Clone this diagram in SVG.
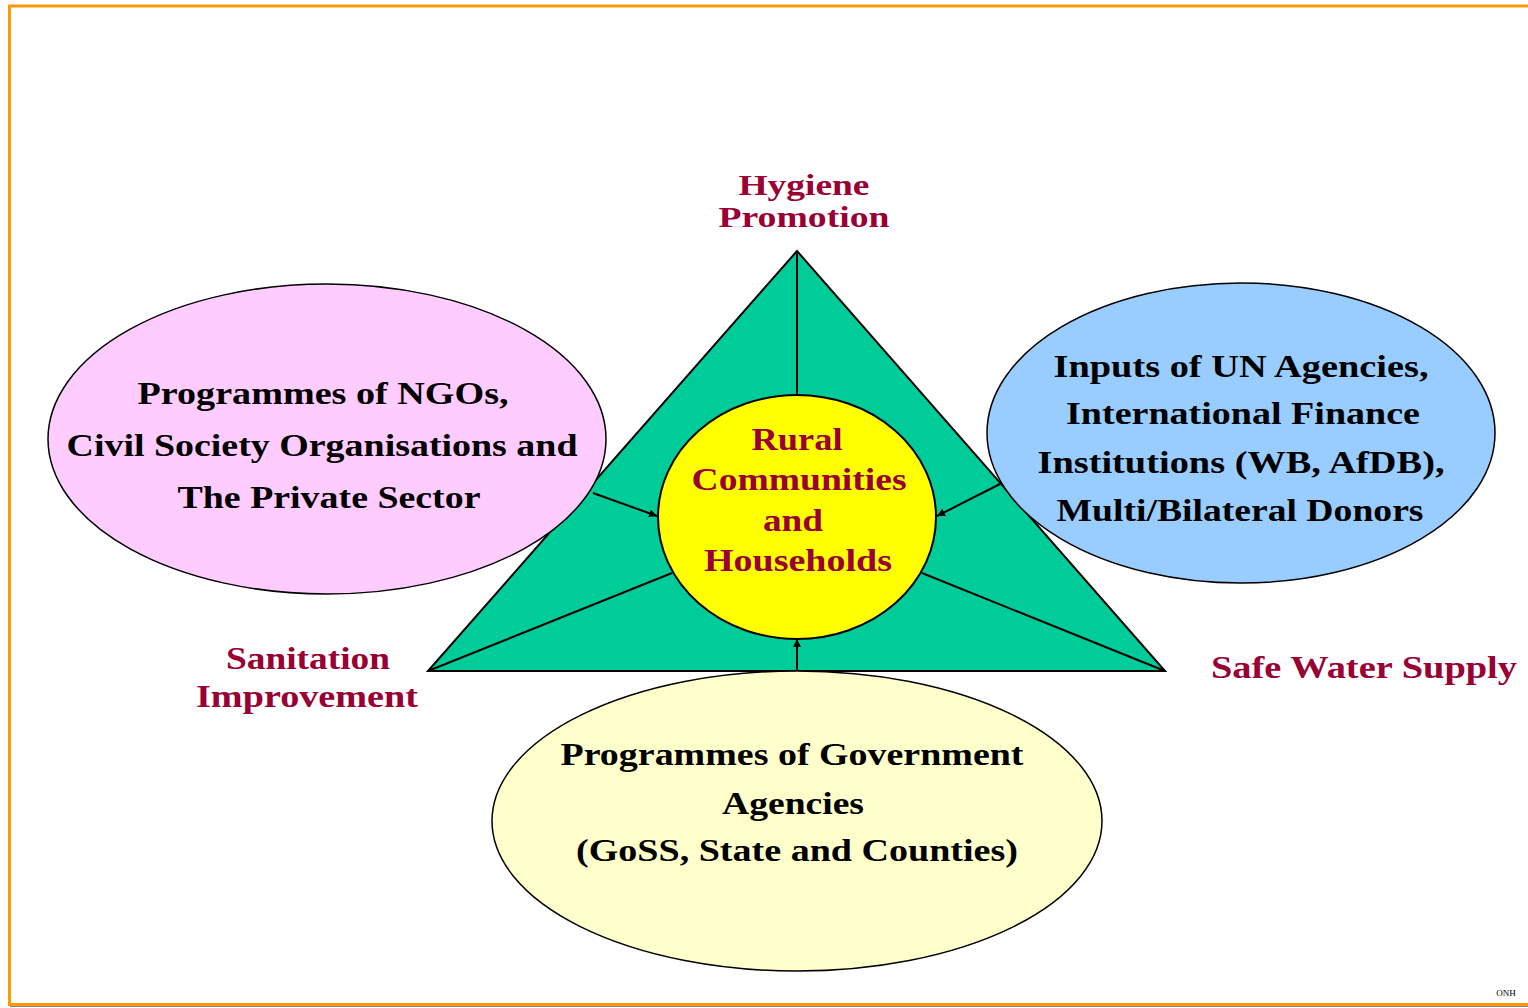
<svg xmlns="http://www.w3.org/2000/svg" width="1528" height="1008" viewBox="0 0 1528 1008">
<defs>
<style>
.t{font-family:"Liberation Serif","Times New Roman",serif;font-weight:bold;font-size:32px;text-anchor:middle}
.k{fill:#000}
.r{fill:#990033}
.s{font-size:30px}
.ln{stroke:#000;stroke-width:2;fill:none}
</style>
<marker id="ah" viewBox="0 0 10 10" refX="10" refY="5" markerWidth="8" markerHeight="8" markerUnits="userSpaceOnUse" orient="auto">
<path d="M0,0 L10,5 L0,10 z" fill="#000"/>
</marker>
</defs>
<rect width="1528" height="1008" fill="#fff"/>
<line x1="10" y1="1006" x2="1528" y2="1006" stroke="#888" stroke-width="2"/>
<path d="M1528,6 H9.5 V1004.5 H1528" fill="none" stroke="#ff9900" stroke-width="3"/>
<g id="triangle">
<polygon points="797,251 428,671 1165,671" fill="#00cc99" stroke="#000" stroke-width="2"/>
<line class="ln" x1="797" y1="251" x2="797" y2="396"/>
<line class="ln" x1="428" y1="671" x2="672" y2="573"/>
<line class="ln" x1="1165" y1="671" x2="922" y2="573"/>
</g>
<g id="ngo">
<ellipse cx="327" cy="439" rx="279" ry="155" fill="#ffccff" stroke="#000" stroke-width="1.5"/>
<text class="t k" x="323" y="404" textLength="371" lengthAdjust="spacingAndGlyphs">Programmes of NGOs,</text>
<text class="t k" x="322" y="456" textLength="511" lengthAdjust="spacingAndGlyphs">Civil Society Organisations and</text>
<text class="t k" x="329" y="508" textLength="303" lengthAdjust="spacingAndGlyphs">The Private Sector</text>
</g>
<g id="un">
<ellipse cx="1241" cy="433" rx="254" ry="150" fill="#99ccff" stroke="#000" stroke-width="1.5"/>
<text class="t k" x="1241" y="377" textLength="375" lengthAdjust="spacingAndGlyphs">Inputs of UN Agencies,</text>
<text class="t k" x="1243" y="424" textLength="354" lengthAdjust="spacingAndGlyphs">International Finance</text>
<text class="t k" x="1241" y="473" textLength="407" lengthAdjust="spacingAndGlyphs">Institutions (WB, AfDB),</text>
<text class="t k" x="1240" y="521" textLength="367" lengthAdjust="spacingAndGlyphs">Multi/Bilateral Donors</text>
</g>
<g id="gov">
<ellipse cx="797" cy="821" rx="305" ry="150" fill="#ffffcc" stroke="#000" stroke-width="1.5"/>
<text class="t k" x="792" y="765" textLength="463" lengthAdjust="spacingAndGlyphs">Programmes of Government</text>
<text class="t k" x="793" y="814" textLength="142" lengthAdjust="spacingAndGlyphs">Agencies</text>
<text class="t k" x="797" y="861" textLength="442" lengthAdjust="spacingAndGlyphs">(GoSS, State and Counties)</text>
</g>
<g id="rural">
<ellipse cx="797" cy="517" rx="139" ry="122" fill="#ffff00" stroke="#000" stroke-width="2"/>
<text class="t r" x="797" y="450" textLength="91" lengthAdjust="spacingAndGlyphs">Rural</text>
<text class="t r" x="799" y="490" textLength="215" lengthAdjust="spacingAndGlyphs">Communities</text>
<text class="t r" x="793" y="531" textLength="60" lengthAdjust="spacingAndGlyphs">and</text>
<text class="t r" x="798" y="571" textLength="188" lengthAdjust="spacingAndGlyphs">Households</text>
</g>
<g id="hygiene">
<text class="t r s" x="804" y="195" textLength="131" lengthAdjust="spacingAndGlyphs">Hygiene</text>
<text class="t r s" x="804" y="227" textLength="171" lengthAdjust="spacingAndGlyphs">Promotion</text>
</g>
<g id="sanitation">
<text class="t r" x="308" y="669" textLength="164" lengthAdjust="spacingAndGlyphs">Sanitation</text>
<text class="t r" x="307" y="707" textLength="222" lengthAdjust="spacingAndGlyphs">Improvement</text>
</g>
<g id="water">
<text class="t r" x="1364" y="678" textLength="306" lengthAdjust="spacingAndGlyphs">Safe Water Supply</text>
</g>
<g id="connectors">
<line class="ln" x1="593" y1="493" x2="657" y2="516" marker-end="url(#ah)"/>
<line class="ln" x1="1000" y1="484" x2="937" y2="516" marker-end="url(#ah)"/>
<line class="ln" x1="797" y1="671" x2="797" y2="639" marker-end="url(#ah)"/>
</g>
<text x="1506" y="996" font-family="Liberation Serif,serif" font-size="9" text-anchor="middle">ONH</text>
</svg>
